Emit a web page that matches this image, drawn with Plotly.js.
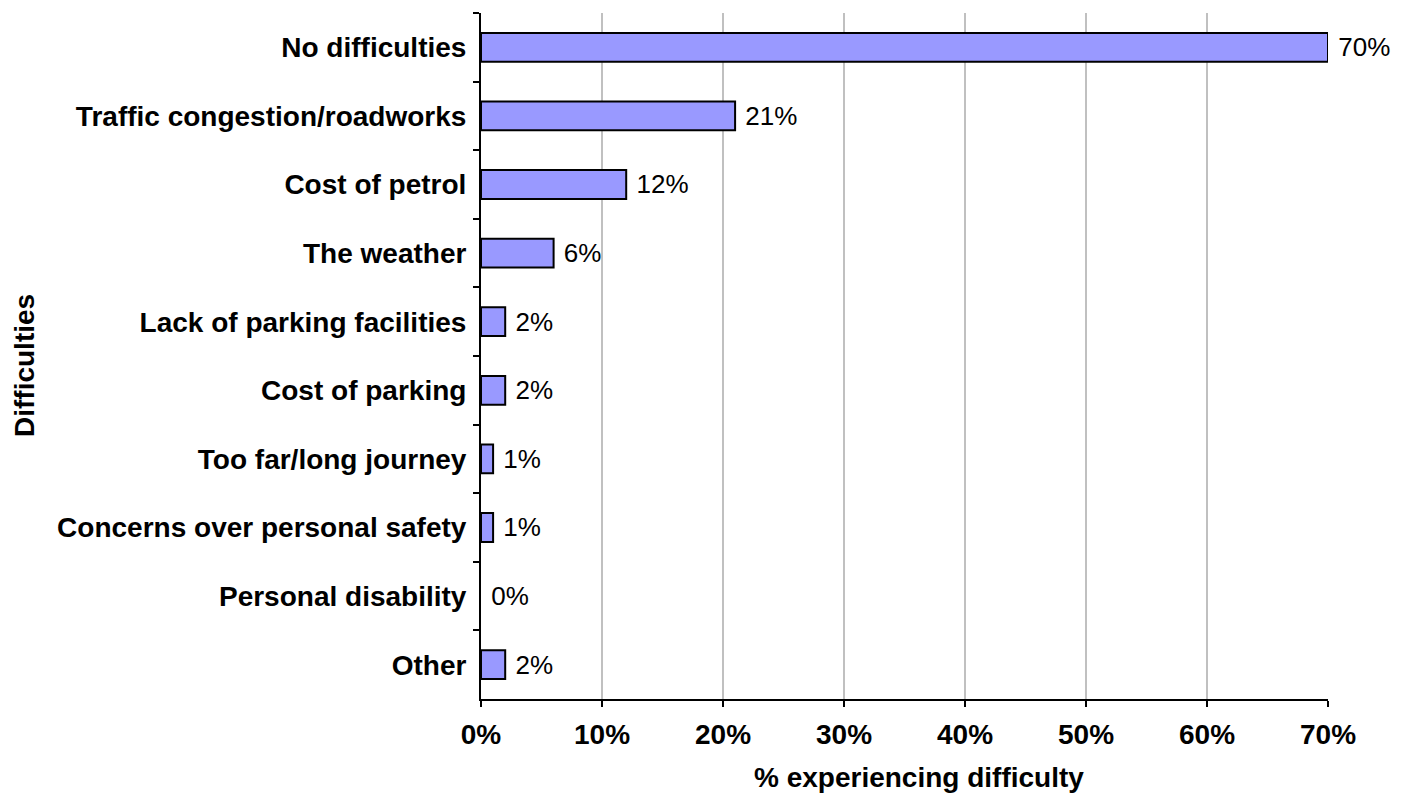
<!DOCTYPE html>
<html>
<head>
<meta charset="utf-8">
<script src="https://cdn.plot.ly/plotly-3.0.1.min.js"></script>
<style>html,body{margin:0;padding:0;background:#fff;}#chart{width:1412px;height:796px;}</style>
</head>
<body>
<div id="chart"></div>
<script>
const categories = ["No difficulties","Traffic congestion/roadworks","Cost of petrol","The weather","Lack of parking facilities","Cost of parking","Too far/long journey","Concerns over personal safety","Personal disability","Other"];
const values = [70,21,12,6,2,2,1,1,0,2];
const tickVals = [0,10,20,30,40,50,60,70];
const tickText = ["0%","10%","20%","30%","40%","50%","60%","70%"];
const xTitle = "% experiencing difficulty";
const yTitle = "Difficulties";

const font = "Liberation Sans, Arial, sans-serif";
const fs = 28;
const trace = {
  type: "bar",
  orientation: "h",
  y: categories,
  x: values,
  text: values.map(v => "\u00a0" + v + "%"),
  textposition: "outside",
  cliponaxis: false,
  textfont: {family: font, size: fs, color: "#000"},
  marker: {color: "#9999FF", line: {color: "#000", width: values.map(v => v === 0 ? 0 : 2)}},
  width: 0.42,
  hoverinfo: "none"
};
const layout = {
  width: 1412, height: 796,
  margin: {l: 481, r: 84, t: 13, b: 97},
  paper_bgcolor: "#fff", plot_bgcolor: "#fff",
  showlegend: false,
  font: {family: font, color: "#000"},
  xaxis: {
    range: [0, 70], tickvals: tickVals, ticktext: tickText,
    showgrid: true, gridcolor: "#C0C0C0", gridwidth: 2,
    showline: true, linecolor: "#000", linewidth: 2,
    ticks: "outside", ticklen: 6, tickwidth: 2, tickcolor: "#000",
    tickfont: {family: font, size: fs, color: "#000", weight: "bold"},
    ticklabelstandoff: 3,
    zeroline: false
  },
  yaxis: {
    type: "category", autorange: "reversed",
    showline: true, linecolor: "#000", linewidth: 2,
    ticks: "outside", ticklen: 6, tickwidth: 2, tickcolor: "#000",
    tickson: "boundaries",
    showgrid: false,
    tickfont: {family: font, size: fs, color: "#000", weight: "bold"},
    ticklabelstandoff: 7
  },
  annotations: [
    {text: xTitle, xref: "paper", yref: "paper", x: (919-481)/847, y: (699-778)/686,
     xanchor: "center", yanchor: "middle", showarrow: false,
     font: {family: font, size: fs, color: "#000", weight: "bold"}},
    {text: yTitle, xref: "paper", yref: "paper", x: (24-481)/847, y: (699-366)/686,
     xanchor: "center", yanchor: "middle", textangle: -90, showarrow: false,
     font: {family: font, size: fs, color: "#000", weight: "bold"}}
  ]
};
Plotly.newPlot("chart", [trace], layout, {displayModeBar: false, staticPlot: true});
</script>
</body>
</html>
